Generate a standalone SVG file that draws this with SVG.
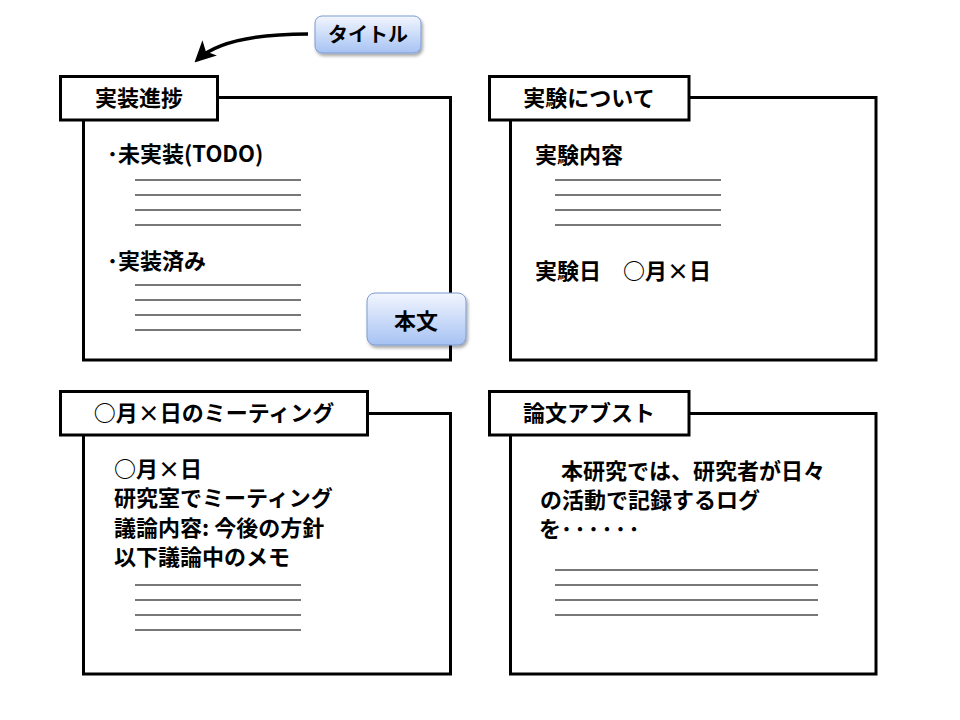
<svg xmlns="http://www.w3.org/2000/svg" width="960" height="720" viewBox="0 0 960 720">
<style>
.frame{fill:#fff;stroke:#000;stroke-width:3}
.tag{fill:#fff;stroke:#000;stroke-width:3}
.rule{stroke:#4a4a4a;stroke-width:1.3;fill:none}
text{font-family:"Noto Sans CJK JP","Liberation Sans",sans-serif;font-weight:700;fill:#000}
.t{font-size:22px}
.c{text-anchor:middle}
.btn{fill:url(#bg);stroke:#7d9bd1;stroke-width:1;filter:url(#sh)}
</style>
<defs>
<linearGradient id="bg" x1="0" y1="0" x2="0" y2="1">
<stop offset="0" stop-color="#f2f6fe"/>
<stop offset="1" stop-color="#a6c2f3"/>
</linearGradient>
<filter id="sh" x="-20%" y="-20%" width="140%" height="160%">
<feDropShadow dx="1.5" dy="2.5" stdDeviation="1.8" flood-color="#000" flood-opacity="0.35"/>
</filter>
<marker id="ah" viewBox="0 0 12 12" refX="10" refY="6" markerWidth="6" markerHeight="6" orient="auto" markerUnits="strokeWidth">
<path d="M0,0 L12,6 L0,12 L3,6 Z" fill="#000"/>
</marker>
</defs>
<rect width="960" height="720" fill="#fff"/>

<g id="panel-progress">
<rect class="frame" x="83.5" y="97.5" width="367" height="262.5"/>
<rect class="tag" x="60.5" y="76.5" width="157" height="43.5"/>
<text class="t c" x="139" y="106">実装進捗</text>
<text class="t" x="107" y="162">･未実装(TODO)</text>
<g class="rule">
<line x1="135" y1="180" x2="301" y2="180"/><line x1="135" y1="195" x2="301" y2="195"/>
<line x1="135" y1="210" x2="301" y2="210"/><line x1="135" y1="225" x2="301" y2="225"/>
</g>
<text class="t" x="107" y="269">･実装済み</text>
<g class="rule">
<line x1="135" y1="285" x2="301" y2="285"/><line x1="135" y1="300" x2="301" y2="300"/>
<line x1="135" y1="315" x2="301" y2="315"/><line x1="135" y1="330" x2="301" y2="330"/>
</g>
</g>

<g id="panel-experiment">
<rect class="frame" x="510.5" y="97.5" width="365.5" height="262.5"/>
<rect class="tag" x="489.5" y="76.5" width="199.5" height="43.5"/>
<text class="t c" x="589" y="106">実験について</text>
<text class="t" x="535" y="163">実験内容</text>
<g class="rule">
<line x1="555" y1="180" x2="721" y2="180"/><line x1="555" y1="195" x2="721" y2="195"/>
<line x1="555" y1="210" x2="721" y2="210"/><line x1="555" y1="225" x2="721" y2="225"/>
</g>
<text class="t" x="535" y="279">実験日　○月×日</text>
</g>

<g id="panel-meeting">
<rect class="frame" x="83.5" y="413.5" width="367" height="260.5"/>
<rect class="tag" x="60.5" y="391.5" width="307" height="43.5"/>
<text class="t c" x="214" y="421">○月×日のミーティング</text>
<text class="t" x="114" y="477">○月×日</text>
<text class="t" x="114" y="506">研究室でミーティング</text>
<text class="t" x="114" y="536">議論内容: 今後の方針</text>
<text class="t" x="114" y="565">以下議論中のメモ</text>
<g class="rule">
<line x1="135" y1="585" x2="301" y2="585"/><line x1="135" y1="600" x2="301" y2="600"/>
<line x1="135" y1="615" x2="301" y2="615"/><line x1="135" y1="630" x2="301" y2="630"/>
</g>
</g>

<g id="panel-abstract">
<rect class="frame" x="510.5" y="413.5" width="365.5" height="260.5"/>
<rect class="tag" x="489.5" y="391.5" width="199.5" height="43.5"/>
<text class="t c" x="589" y="421">論文アブスト</text>
<text class="t" x="539" y="479">　本研究では、研究者が日々</text>
<text class="t" x="540" y="508">の活動で記録するログ</text>
<text class="t" x="539" y="537">を<tspan letter-spacing="2.5">･･････</tspan></text>
<g class="rule">
<line x1="555" y1="570" x2="818" y2="570"/><line x1="555" y1="585" x2="818" y2="585"/>
<line x1="555" y1="600" x2="818" y2="600"/><line x1="555" y1="615" x2="818" y2="615"/>
</g>
</g>

<g id="label-title">
<rect class="btn" x="315" y="16" width="106" height="37" rx="7"/>
<text class="c" x="368" y="42" font-size="20">タイトル</text>
</g>

<g id="label-body">
<rect class="btn" x="367" y="293" width="99" height="52" rx="8"/>
<text class="t c" x="416" y="329">本文</text>
</g>

<g id="connectors">
<path d="M308,34 C262,34 218,40 197,60" fill="none" stroke="#000" stroke-width="3.5" marker-end="url(#ah)"/>
</g>
</svg>
